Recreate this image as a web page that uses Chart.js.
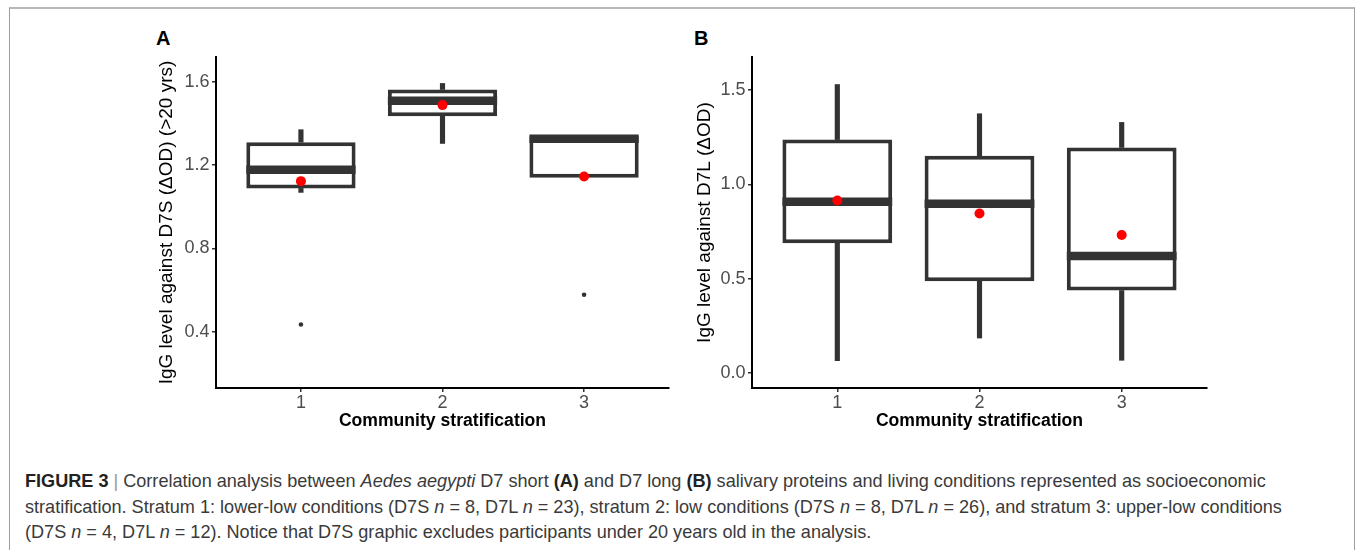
<!DOCTYPE html>
<html>
<head>
<meta charset="utf-8">
<script src="https://cdn.jsdelivr.net/npm/chart.js@4.4.1/dist/chart.umd.min.js"></script>
<style>
  body { margin: 0; width: 1357px; height: 550px; background: #fff; position: relative; overflow: hidden;
         font-family: "Liberation Sans", Arial, sans-serif; }
  #frame { position: absolute; left: 9px; top: 7px; width: 1344px; height: 600px;
           border-top: 2px solid #b8b8b8; border-left: 1px solid #9c9c9c; border-right: 1px solid #9c9c9c; }
  .panel { position: absolute; top: 30px; height: 420px; }
  #panelA { left: 140px; width: 545px; }
  #panelB { left: 680px; width: 540px; }
  .tag { position: absolute; top: 28px; font: bold 20px/20px "Liberation Sans", Arial, sans-serif; color: #000; }
  #caption { position: absolute; left: 25px; top: 469px; font-size: 18.1px; line-height: 25.7px;
             color: #3a3a3a; white-space: nowrap; }
  #caption b { color: #222; }
  #caption .sep { color: #999; }
</style>
</head>
<body>
<div id="frame"></div>
<div class="tag" style="left:156px">A</div>
<div class="tag" style="left:694px">B</div>
<div class="panel" id="panelA"><canvas id="chartA"></canvas></div>
<div class="panel" id="panelB"><canvas id="chartB"></canvas></div>
<div id="caption"><b>FIGURE 3</b> <span class="sep">|</span> Correlation analysis between <i>Aedes aegypti</i> D7 short <b>(A)</b> and D7 long <b>(B)</b> salivary proteins and living conditions represented as socioeconomic<br>stratification. Stratum 1: lower-low conditions (D7S <i>n</i> = 8, D7L <i>n</i> = 23), stratum 2: low conditions (D7S <i>n</i> = 8, D7L <i>n</i> = 26), and stratum 3: upper-low conditions<br>(D7S <i>n</i> = 4, D7L <i>n</i> = 12). Notice that D7S graphic excludes participants under 20 years old in the analysis.</div>

<script>
// strata on the x axis
const strata = [1, 2, 3];
const strataTicks = [1, 2, 3];

// panel A: D7S (>20 yrs)
const d7sLow = [1.069, 1.304, 1.139];
const d7sQ1 = [1.088, 1.435, 1.139];
const d7sMedian = [1.178, 1.509, 1.326];
const d7sQ3 = [1.310, 1.563, 1.338];
const d7sHigh = [1.370, 1.592, 1.338];
const d7sMean = [1.123, 1.488, 1.145];
const d7sOutliers = [[0.435], [], [0.578]];
const d7sTicks = [0.4, 0.8, 1.2, 1.6];

// panel B: D7L
const d7lLow = [0.065, 0.185, 0.067];
const d7lQ1 = [0.688, 0.486, 0.437];
const d7lMedian = [0.908, 0.898, 0.620];
const d7lQ3 = [1.238, 1.152, 1.196];
const d7lHigh = [1.530, 1.375, 1.329];
const d7lMean = [0.915, 0.846, 0.732];
const d7lOutliers = [[], [], []];
const d7lTicks = [0, 0.5, 1.0, 1.5];

const FONT = "'Liberation Sans', Arial, sans-serif";
const BOX_W = 0.772;
const INK = "#333333";

function pts(ys) {
  return strata.map((x, i) => ({ x: x, y: ys[i] }));
}
function spans(lo, hi) {
  return strata.map((x, i) => ({ x: x, y: [lo[i], hi[i]] }));
}

function boxChart(canvasId, s, cfg) {
  const outliers = [];
  s.outliers.forEach((list, i) => list.forEach(v => outliers.push({ x: strata[i], y: v })));

  const whisker = {
    type: "bar", grouped: false, barThickness: 4.5,
    backgroundColor: INK, borderWidth: 0
  };

  return new Chart(document.getElementById(canvasId), {
    type: "bar",
    data: {
      datasets: [
        { type: "scatter", data: pts(s.mean), pointRadius: 5, pointBackgroundColor: "#ff0000", pointBorderWidth: 0 },
        { type: "scatter", data: outliers, pointRadius: 2.3, pointBackgroundColor: INK, pointBorderWidth: 0 },
        {
          type: "scatter", data: pts(s.median), pointStyle: "line",
          pointRadius: (ctx) => {
            const xs = ctx.chart.scales.x;
            return xs.getPixelForValue(1 + BOX_W / 2) - xs.getPixelForValue(1);
          },
          pointBorderColor: INK, pointBorderWidth: 8.5
        },
        {
          type: "bar", data: spans(s.q1, s.q3), grouped: false,
          barPercentage: BOX_W, categoryPercentage: 1,
          backgroundColor: "#ffffff", borderColor: INK, borderWidth: 4, borderSkipped: false
        },
        Object.assign({ data: spans(s.q3, s.high) }, whisker),
        Object.assign({ data: spans(s.low, s.q1) }, whisker)
      ]
    },
    options: {
      responsive: true,
      maintainAspectRatio: false,
      animation: false,
      layout: { padding: { top: 27, right: cfg.padRight, left: 0, bottom: 0 } },
      plugins: { legend: { display: false }, tooltip: { enabled: false } },
      scales: {
        x: {
          type: "linear", min: 0.4, max: 3.6, offset: false,
          afterBuildTicks: (ax) => { ax.ticks = strataTicks.map(v => ({ value: v })); },
          afterFit: (ax) => { ax.height = 62; },
          grid: { display: true, drawOnChartArea: false, drawTicks: true, tickLength: 4, color: INK, lineWidth: 1.5, offset: false },
          border: { display: true, color: "#000", width: 2 },
          ticks: { color: "#4d4d4d", font: { family: FONT, size: 18 }, padding: 0, callback: (v) => String(v) },
          title: {
            display: true, text: "Community stratification", color: "#000",
            font: { family: FONT, size: 17.6, weight: "bold" }, padding: { top: 0, bottom: 18.5 }
          }
        },
        y: {
          min: cfg.yMin, max: cfg.yMax,
          afterBuildTicks: (ax) => { ax.ticks = cfg.ticks.map(v => ({ value: v })); },
          afterFit: (ax) => { ax.width = cfg.axisWidth; },
          grid: { display: true, drawOnChartArea: false, drawTicks: true, tickLength: 4, color: INK, lineWidth: 1.5 },
          border: { display: true, color: "#000", width: 2 },
          ticks: { color: "#4d4d4d", font: { family: FONT, size: 18 }, padding: 2.5, callback: (v) => v.toFixed(1) },
          title: {
            display: true, text: cfg.yTitle, color: "#000",
            font: { family: FONT, size: 19 }, padding: { top: cfg.titlePad, bottom: 0 }
          }
        }
      }
    }
  });
}

boxChart("chartA", {
  low: d7sLow, q1: d7sQ1, median: d7sMedian, q3: d7sQ3, high: d7sHigh, mean: d7sMean, outliers: d7sOutliers
}, {
  yMin: 0.13, yMax: 1.719, ticks: d7sTicks, axisWidth: 76, padRight: 16, titlePad: 15.5,
  yTitle: "IgG level against D7S (\u0394OD) (>20 yrs)"
});

boxChart("chartB", {
  low: d7lLow, q1: d7lQ1, median: d7lMedian, q3: d7lQ3, high: d7lHigh, mean: d7lMean, outliers: d7lOutliers
}, {
  yMin: -0.08, yMax: 1.676, ticks: d7lTicks, axisWidth: 72, padRight: 13, titlePad: 13.6,
  yTitle: "IgG level against D7L (\u0394OD)"
});
</script>
</body>
</html>
